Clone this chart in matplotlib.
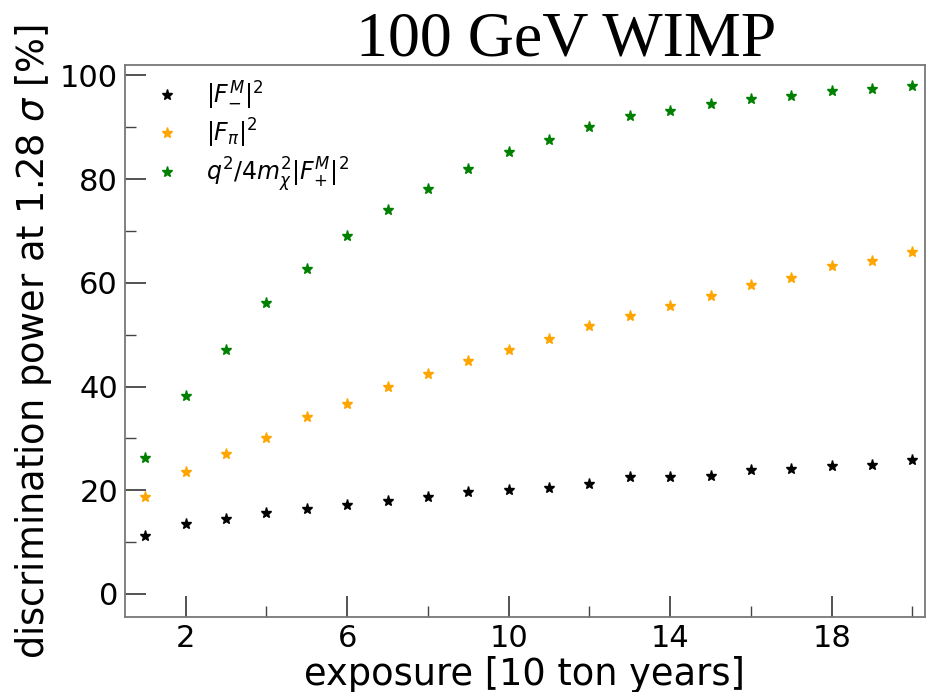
import matplotlib
matplotlib.use("Agg")
import matplotlib.pyplot as plt
from matplotlib.ticker import FixedLocator

exposure = list(range(1, 21))
f_minus = [11.2, 13.4, 14.5, 15.6, 16.4, 17.1, 17.9, 18.7, 19.7, 20.1,
           20.5, 21.2, 22.5, 22.6, 22.8, 23.9, 24.0, 24.6, 24.8, 25.9]
f_pi = [18.7, 23.5, 27.0, 30.1, 34.1, 36.6, 40.0, 42.4, 45.0, 47.1,
        49.1, 51.6, 53.6, 55.6, 57.4, 59.6, 60.9, 63.2, 64.2, 65.9]
f_plus = [26.2, 38.1, 47.0, 56.2, 62.6, 69.0, 74.1, 78.0, 82.0, 85.2,
          87.5, 90.1, 92.2, 93.1, 94.4, 95.5, 96.1, 96.9, 97.4, 97.9]

series = [
    (f_minus, "black", r"$|F^M_{-}|^2$"),
    (f_pi, "orange", r"$|F_{\pi}|^2$"),
    (f_plus, "green", r"$q^2/4m_{\chi}^2|F^M_{+}|^2$"),
]

fig = plt.figure(figsize=(9.33, 6.92), dpi=100)
ax = fig.add_axes([0.134, 0.108, 0.857, 0.798])

for vals, color, label in series:
    ax.plot(exposure, vals, linestyle="none", marker="*", markersize=8,
            color=color, label=label)

ax.set_xlim(0.5, 20.3)
ax.set_ylim(-4.5, 102)
ax.xaxis.set_major_locator(FixedLocator([2, 6, 10, 14, 18]))
ax.xaxis.set_minor_locator(FixedLocator([4, 8, 12, 16, 20]))
ax.yaxis.set_major_locator(FixedLocator([0, 20, 40, 60, 80, 100]))
ax.yaxis.set_minor_locator(FixedLocator([10, 30, 50, 70, 90]))
ax.tick_params(which="major", direction="in", length=15, width=1.3,
               labelsize=22, color="#444444", pad=5)
ax.tick_params(which="minor", direction="in", length=8, width=1.0,
               color="#444444")
for sp in ax.spines.values():
    sp.set_color("#777777")
    sp.set_linewidth(1.3)

ax.set_xlabel("exposure [10 ton years]", fontsize=26.5, labelpad=2)
ax.set_ylabel(r"discrimination power at 1.28 $\sigma$ [%]", fontsize=26.5,
              labelpad=4)

ax.legend(loc="upper left", bbox_to_anchor=(-0.004, 1.0127), frameon=False,
          fontsize=17, handletextpad=0.66, borderaxespad=0.5,
          labelspacing=0.22)

fig.text(0.607, 1 - 55 / 692, "100 GeV WIMP", ha="center", va="baseline",
         family="Liberation Serif", fontsize=46)

fig.savefig("out.png", dpi=100)
